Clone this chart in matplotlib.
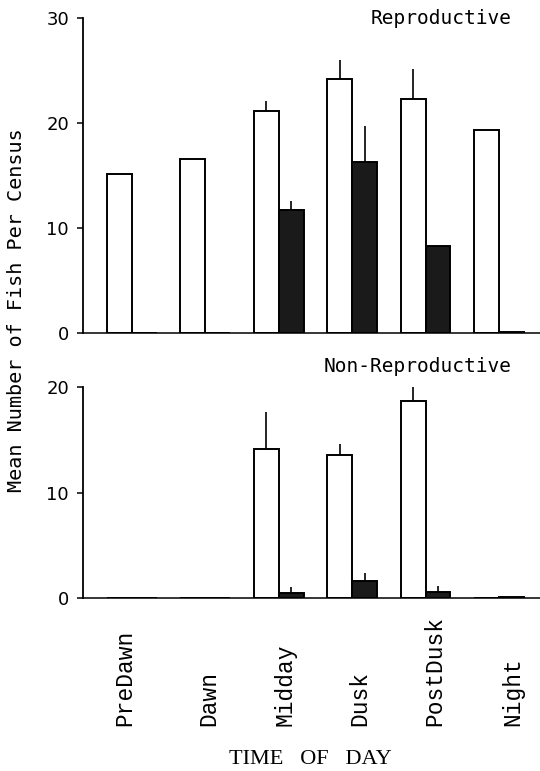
import numpy as np
import matplotlib
matplotlib.use('Agg')
import matplotlib.pyplot as plt
from matplotlib.transforms import blended_transform_factory

# categories
times = ['PreDawn', 'Dawn', 'Midday', 'Dusk', 'PostDusk', 'Night']

# Reproductive (top panel)
rep_open = [15.1, 16.6, 21.1, 24.2, 22.3, 19.3]
rep_open_err = [0, 0, 1.0, 1.8, 2.8, 0]
rep_solid = [0, 0, 11.7, 16.3, 8.3, 0.1]
rep_solid_err = [0, 0, 0.9, 3.4, 0, 0]

# Non-Reproductive (bottom panel)
non_open = [0, 0, 14.1, 13.55, 18.7, 0]
non_open_err = [0, 0, 3.5, 1.05, 1.4, 0]
non_solid = [0, 0, 0.5, 1.6, 0.6, 0.1]
non_solid_err = [0, 0, 0.5, 0.8, 0.5, 0]

W = 0.34
MONO = 'DejaVu Sans Mono'

fig = plt.figure(figsize=(5.4, 7.71), dpi=100)
ax1 = fig.add_axes([83/540, 0.568, 1 - 83/540, 0.977 - 0.568])
ax2 = fig.add_axes([83/540, 0.2244, 1 - 83/540, 0.498 - 0.2244])

x = np.arange(len(times))


def draw_panel(ax, open_v, open_e, solid_v, solid_e, top):
    ax.bar(x - W/2, open_v, W, color='white', edgecolor='black', linewidth=1.4, zorder=2)
    ax.bar(x + W/2, solid_v, W, color='#1a1a1a', edgecolor='black', linewidth=1.4, zorder=2)
    # one-sided (upper) error bars, no caps
    ax.errorbar(x - W/2, open_v, yerr=[np.zeros(len(x)), open_e], fmt='none',
                ecolor='black', elinewidth=1.2, capsize=0, zorder=1)
    ax.errorbar(x + W/2, solid_v, yerr=[np.zeros(len(x)), solid_e], fmt='none',
                ecolor='black', elinewidth=1.2, capsize=0, zorder=1)
    ax.set_xlim(-0.667, 5.56)
    ax.set_ylim(0, top)
    ax.set_yticks(np.arange(0, top + 1, 10))
    ax.set_xticks([])
    for s in ['top', 'right']:
        ax.spines[s].set_visible(False)
    ax.spines['left'].set_linewidth(1.3)
    ax.spines['bottom'].set_linewidth(1.1)
    ax.tick_params(axis='y', direction='out', length=4, width=1.1, pad=6,
                   labelsize=13)


draw_panel(ax1, rep_open, rep_open_err, rep_solid, rep_solid_err, 30)
draw_panel(ax2, non_open, non_open_err, non_solid, non_solid_err, 20)

fig.text(512/540, 1 - 18/771, 'Reproductive', family=MONO, fontsize=14,
         ha='right', va='center')
fig.text(512/540, 1 - 367/771, 'Non-Reproductive', family=MONO, fontsize=14,
         ha='right', va='center')

fig.text(17/540, 1 - 310/771, 'Mean Number of Fish Per Census', family=MONO,
         fontsize=14.5, rotation=90, ha='center', va='center')

# category labels under the lower panel
label_x = [-0.1, 1.04, 2.08, 3.11, 4.13, 5.19]
tr = blended_transform_factory(ax2.transData, fig.transFigure)
for lx, name in zip(label_x, times):
    fig.text(lx, 1 - 726/771, name, transform=tr, family='Liberation Mono',
             fontsize=16.5, rotation=90, ha='center', va='bottom')

fig.text(310/540, 1 - 759/771, 'TIME   OF   DAY', family='Liberation Serif',
         fontsize=16, ha='center', va='center')

fig.savefig('out.png', dpi=100)
